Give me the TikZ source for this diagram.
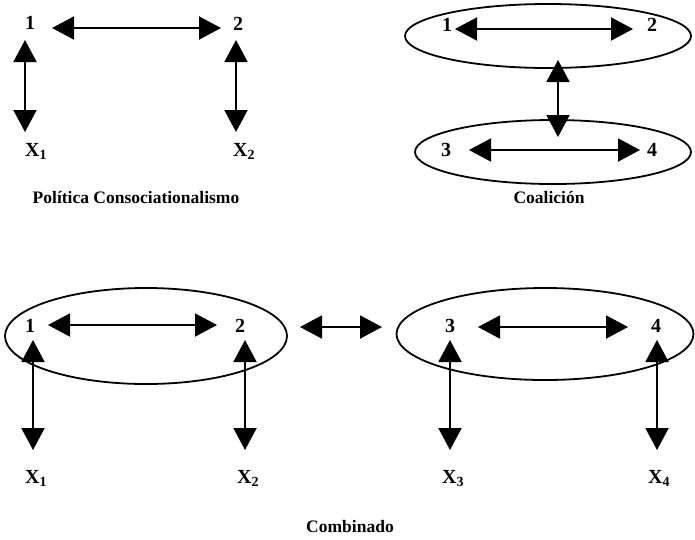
\documentclass[tikz,border=0pt]{standalone}
\usepackage{fontspec}
\setmainfont{Liberation Serif}
\usetikzlibrary{arrows.meta,shapes.geometric}
\begin{document}
\begin{tikzpicture}[x=1pt,y=-1pt,
  lbl/.style={font=\bfseries\fontsize{20}{22}\selectfont, inner sep=0pt},
  var/.style={lbl, anchor=base west},
  ttl/.style={font=\bfseries\fontsize{17.5}{20}\selectfont, inner sep=0pt},
  link/.style={line width=2pt,
    {Triangle[length=22pt,width=23pt]}-{Triangle[length=22pt,width=23pt]}},
  grp/.style={draw, ellipse, line width=1.8pt, inner sep=0pt}]
\useasboundingbox (0,0) rectangle (695,539);

% ---- Política Consociationalismo ----
\node[lbl] (a1) at (30,23) {1};
\node[lbl] (a2) at (238,24) {2};
\node[var] (ax1) at (25,156) {X\textsubscript{1}};
\node[var] (ax2) at (233,156) {X\textsubscript{2}};
\node[ttl] (at) at (136,197) {Política Consociationalismo};
\coordinate (a12s) at (52,28);  \coordinate (a12e) at (221,28);
\coordinate (a1s) at (25,40);   \coordinate (a1e) at (25,132);
\coordinate (a2s) at (236,40);  \coordinate (a2e) at (236,132);
\draw[link] (a12s) -- (a12e);
\draw[link] (a1s) -- (a1e);
\draw[link] (a2s) -- (a2e);

% ---- Coalición ----
\node[grp, minimum width=286pt, minimum height=64pt] (c12) at (548,36) {};
\node[grp, minimum width=276pt, minimum height=64pt] (c34) at (553,152) {};
\node[lbl] (c1) at (447,25) {1};
\node[lbl] (c2) at (652,25) {2};
\node[lbl] (c3) at (446,150) {3};
\node[lbl] (c4) at (652,150) {4};
\node[ttl] (ct) at (549,197) {Coalición};
\coordinate (c12s) at (455,29);  \coordinate (c12e) at (633,29);
\coordinate (c34s) at (469,150); \coordinate (c34e) at (640,150);
\coordinate (cvs) at (558,60);   \coordinate (cve) at (558,137);
\draw[link] (c12s) -- (c12e);
\draw[link] (c34s) -- (c34e);
\draw[link] (cvs) -- (cve);

% ---- Combinado ----
\node[grp, minimum width=282pt, minimum height=96pt] (b12) at (146,336) {};
\node[grp, minimum width=297pt, minimum height=92pt] (b34) at (545,334) {};
\node[lbl] (b1) at (30,326) {1};
\node[lbl] (b2) at (240,326) {2};
\node[lbl] (b3) at (450,326) {3};
\node[lbl] (b4) at (656,326) {4};
\node[var] (bx1) at (25,483) {X\textsubscript{1}};
\node[var] (bx2) at (237,483) {X\textsubscript{2}};
\node[var] (bx3) at (442,483) {X\textsubscript{3}};
\node[var] (bx4) at (648,483) {X\textsubscript{4}};
\node[ttl] (bt) at (350,527) {Combinado};
\coordinate (b12s) at (48,325);  \coordinate (b12e) at (217,325);
\coordinate (b34s) at (478,327); \coordinate (b34e) at (628,327);
\coordinate (bms) at (300,327);  \coordinate (bme) at (382,327);
\coordinate (b1s) at (33,340);   \coordinate (b1e) at (33,450);
\coordinate (b2s) at (245,340);  \coordinate (b2e) at (245,450);
\coordinate (b3s) at (450,340);  \coordinate (b3e) at (450,450);
\coordinate (b4s) at (657,340);  \coordinate (b4e) at (657,450);
\draw[link] (b12s) -- (b12e);
\draw[link] (b34s) -- (b34e);
\draw[link] (bms) -- (bme);
\draw[link] (b1s) -- (b1e);
\draw[link] (b2s) -- (b2e);
\draw[link] (b3s) -- (b3e);
\draw[link] (b4s) -- (b4e);
\end{tikzpicture}
\end{document}
